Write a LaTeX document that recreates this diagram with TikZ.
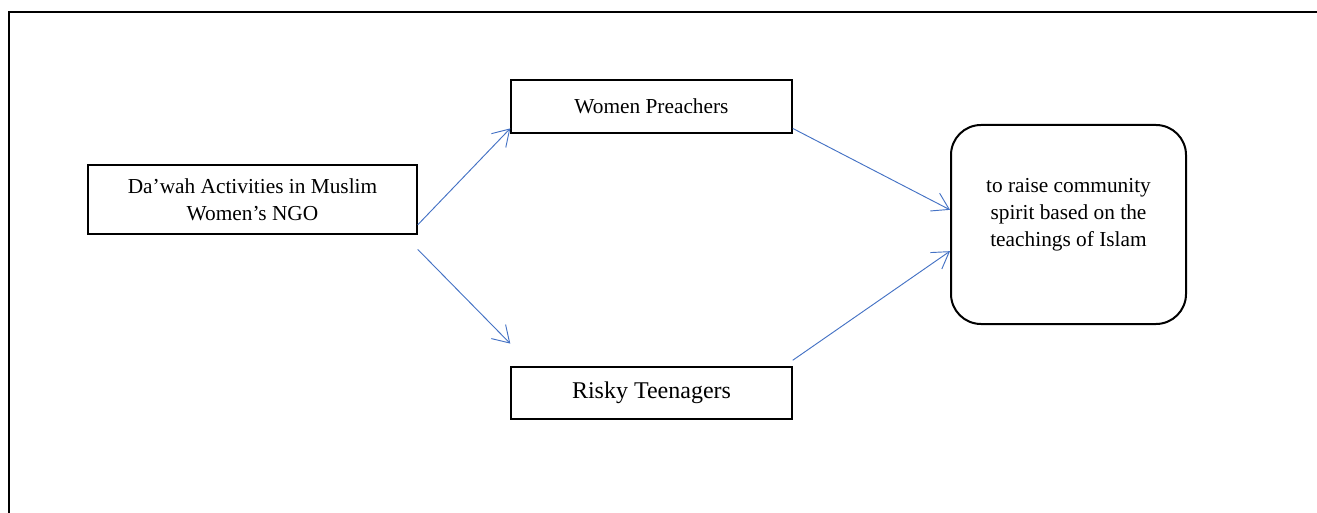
\documentclass[tikz,border=0pt]{standalone}
\usepackage{fontspec}
\setmainfont{Liberation Serif}
\usepackage{tikz}
\usetikzlibrary{arrows.meta}
\definecolor{linkblue}{HTML}{4472C4}

\begin{document}
\begin{tikzpicture}[x=0.75pt, y=-0.75pt,
  box/.style={draw, line width=1.1pt, inner sep=0pt, align=center, font=\fontsize{16}{20}\selectfont},
  goalbox/.style={box, line width=1.5pt, rounded corners=22.5pt},
  link/.style={draw=linkblue, line width=0.7pt, -{Straight Barb[length=12pt,width=15pt]}}]
\useasboundingbox (0,0) rectangle (1317,513);
\draw[line width=1.1pt] (9,513) -- (9,12) -- (1317,12); %outer frame

%boxes
\node[box, minimum width=246.75pt, minimum height=51.75pt] (dawah) at (252.5,199.5) {Da’wah Activities in Muslim\\Women’s NGO};
\node[box, minimum width=210.75pt, minimum height=39.75pt] (preach) at (651.5,106.5) {Women Preachers};
\node[box, minimum width=210.75pt, minimum height=39pt, font=\fontsize{18}{22}\selectfont] (risky) at (651.5,393) {Risky Teenagers};
\node[goalbox, minimum width=176.25pt, minimum height=149.25pt, text depth=18pt] (goal) at (1068.5,224.5) {to raise community\\spirit based on the\\teachings of Islam};

%arrows
\draw[link] ([yshift=-19pt]dawah.east) -- ([yshift=4pt]preach.south west);
\draw[link] ([yshift=-11pt]dawah.south east) -- ([yshift=17pt]risky.north west);
\draw[link] ([yshift=4pt]preach.south east) -- ([yshift=11pt]goal.west);
\draw[link] ([yshift=4.5pt]risky.north east) -- ([yshift=-20pt]goal.west);

\end{tikzpicture}
\end{document}
